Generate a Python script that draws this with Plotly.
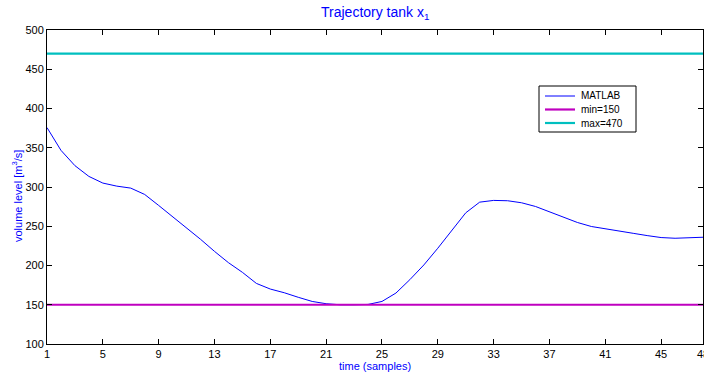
import plotly.graph_objects as go

# ---- data ----
t = list(range(1, 49))
volume = [375.7, 346.7, 327.2, 313.5, 305.0, 301.1, 298.6, 290.5, 276.5, 262.4,
          248.0, 233.4, 218.0, 203.6, 191.3, 177.2, 170.0, 165.3, 159.5, 154.2,
          151.3, 150.0, 150.0, 150.4, 154.2, 164.9, 182.0, 200.7, 222.0, 244.5,
          267.1, 280.7, 282.9, 282.5, 279.9, 275.2, 268.4, 260.8, 254.8, 249.7,
          247.0, 244.5, 241.0, 238.1, 235.6, 234.7, 235.2, 236.0]
v_min = 150
v_max = 470
names = ["MATLAB", "min=150", "max=470"]
colors = ["#0000FF", "#BF00BF", "#00BFBF"]
widths = [1, 2.2, 2.2]
x_ticks = [1, 5, 9, 13, 17, 21, 25, 29, 33, 37, 41, 45, 48]
y_ticks = [100, 150, 200, 250, 300, 350, 400, 450, 500]

W, H = 704, 376
L, R, T, B = 47, 1, 30, 32
PW, PH = W - L - R, H - T - B

def px(x):
    return (x - L) / PW

def py(y):
    return 1 - (y - T) / PH

fig = go.Figure()
fig.add_trace(go.Scatter(x=t, y=volume, mode="lines", name=names[0],
                         line=dict(color=colors[0], width=widths[0])))
fig.add_trace(go.Scatter(x=t, y=[v_min] * len(t), mode="lines", name=names[1],
                         line=dict(color=colors[1], width=widths[1])))
fig.add_trace(go.Scatter(x=t, y=[v_max] * len(t), mode="lines", name=names[2],
                         line=dict(color=colors[2], width=widths[2])))

# manual legend (MATLAB style compact box)
shapes = [dict(type="rect", xref="paper", yref="paper",
               x0=px(539), x1=px(636), y0=py(132), y1=py(86),
               line=dict(color="black", width=1), fillcolor="white", layer="above")]
annotations = []
rows = [96, 109.5, 123]
for i, yy in enumerate(rows):
    shapes.append(dict(type="line", xref="paper", yref="paper",
                       x0=px(545), x1=px(575), y0=py(yy), y1=py(yy),
                       line=dict(color=colors[i], width=widths[i]), layer="above"))
    annotations.append(dict(text=names[i], xref="paper", yref="paper",
                            x=px(579), y=py(yy), xanchor="left", yanchor="middle",
                            showarrow=False, font=dict(size=10, color="black")))

annotations.append(dict(text="Trajectory tank x<sub>1</sub>", xref="paper", yref="paper",
                        x=0.5, y=py(13), xanchor="center", yanchor="middle",
                        showarrow=False, font=dict(size=14, color="#0000FF")))
annotations.append(dict(text="time (samples)", xref="paper", yref="paper",
                        x=px(375), y=py(366), xanchor="center", yanchor="middle",
                        showarrow=False, font=dict(size=11, color="#0000FF")))
annotations.append(dict(text="volume level [m<sup>3</sup>/s]", xref="paper", yref="paper",
                        x=px(17), y=py(196), xanchor="center", yanchor="middle",
                        textangle=-90, showarrow=False,
                        font=dict(size=11, color="#0000FF")))

axis_common = dict(showgrid=False, zeroline=False, showline=True, linecolor="black",
                   linewidth=1, mirror="ticks", ticks="inside", ticklen=5,
                   tickcolor="black", tickfont=dict(size=11, color="black"),
                   ticklabeloverflow="allow", automargin=False)

fig.update_layout(
    width=W, height=H, margin=dict(l=L, r=R, t=T, b=B, pad=0, autoexpand=False),
    paper_bgcolor="white", plot_bgcolor="white",
    font=dict(family="Liberation Sans, Arial, sans-serif"),
    showlegend=False,
    xaxis=dict(range=[1, 48], tickvals=x_ticks, **axis_common),
    yaxis=dict(range=[100, 500], tickvals=y_ticks, **axis_common),
    shapes=shapes, annotations=annotations,
)
fig.write_html("out.html")
